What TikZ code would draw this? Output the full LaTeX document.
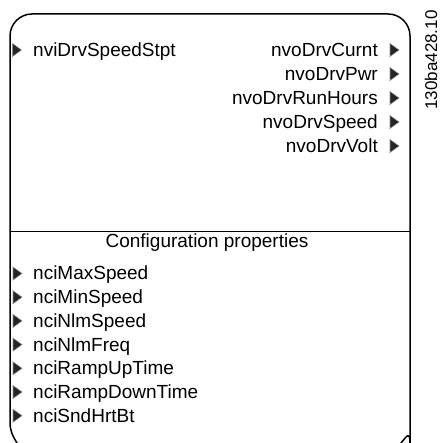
\documentclass[tikz,border=0pt]{standalone}
\usepackage{fontspec}
\setmainfont{Liberation Sans}
\tikzset{tribox/.style={fill=black!85,draw=black!45,line width=0.6pt,line join=miter}}
\newcommand\triat[2]{\path[tribox] (#1,#2) -- (#1,#2+13) -- (#1+9,#2+6.5) -- cycle;}
\begin{document}
\begin{tikzpicture}[x=1pt,y=1pt,
  lbl/.style={inner sep=0pt,font=\fontsize{19}{23}\selectfont},
  frame/.style={line width=1.5pt,line cap=round,line join=round}]
\useasboundingbox (0,0) rectangle (443,443);
% outer frame (open at the bottom)
\draw[frame] (17,0) .. controls (12,8) and (10,13) .. (10,21)
  [rounded corners=22] -- (10,429) -- (410,429) -- (410,21) [sharp corners]
  .. controls (410,13) and (407,7) .. (401,0);
\coordinate (sepL) at (10,211);
\coordinate (sepR) at (410,211);
\draw[line width=1pt] (sepL) -- (sepR);
% inputs
\node[lbl,anchor=base west] (in1) at (33,386.5) {nviDrvSpeedStpt};
\triat{12.5}{386.5}
% outputs
\foreach \t [count=\i from 0] in {nvoDrvCurnt,nvoDrvPwr,nvoDrvRunHours,nvoDrvSpeed,nvoDrvVolt}{
  \node[lbl,anchor=base east] (out\i) at (378,386.5-24*\i) {\t};
  \triat{390}{386.5-24*\i}
}
% configuration properties
\node[lbl,anchor=base] (cfg) at (207,195) {Configuration properties};
\foreach \t [count=\i from 0] in {nciMaxSpeed,nciMinSpeed,nciNlmSpeed,nciNlmFreq,nciRampUpTime,nciRampDownTime,nciSndHrtBt}{
  \node[lbl,anchor=base west] (nci\i) at (33,163-23.7*\i) {\t};
  \triat{13}{163-23.7*\i}
}
% drawing number
\node[inner sep=0pt,font=\fontsize{17}{20}\selectfont,rotate=90] (num) at (431,383) {130ba428.10};
\end{tikzpicture}
\end{document}
